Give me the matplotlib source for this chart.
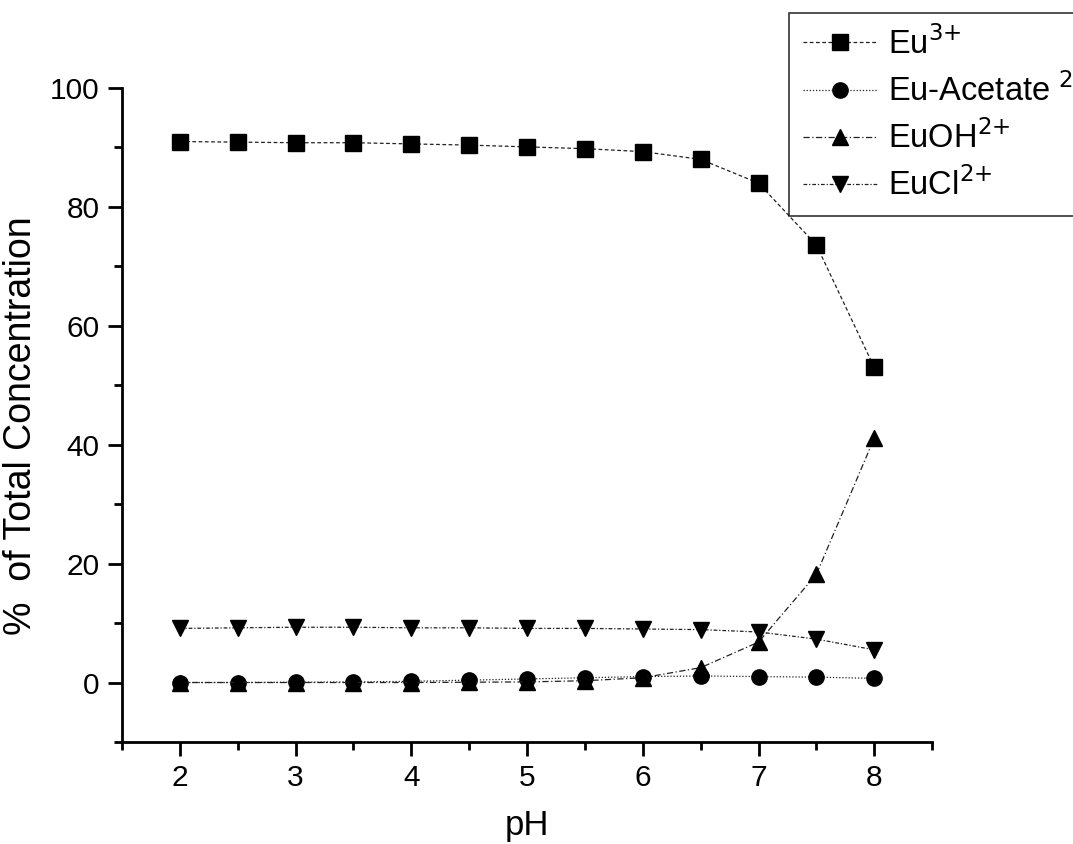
import matplotlib
matplotlib.use("Agg")
import matplotlib.pyplot as plt
from matplotlib.ticker import MultipleLocator

plt.rcParams['font.family'] = ['Liberation Sans', 'DejaVu Sans']
plt.rcParams['mathtext.default'] = 'regular'

# Speciation of europium versus pH
ph = [2, 2.5, 3, 3.5, 4, 4.5, 5, 5.5, 6, 6.5, 7, 7.5, 8]
eu3 = [91.0, 90.9, 90.8, 90.8, 90.6, 90.4, 90.1, 89.8, 89.3, 88.0, 84.0, 73.6, 53.0]
eu_acetate = [0.0, 0.0, 0.05, 0.1, 0.2, 0.4, 0.6, 0.8, 1.0, 1.1, 1.0, 0.9, 0.7]
euoh = [0.0, 0.0, 0.0, 0.0, 0.0, 0.05, 0.1, 0.3, 0.8, 2.5, 6.8, 18.2, 41.1]
eucl = [9.1, 9.2, 9.3, 9.3, 9.2, 9.2, 9.1, 9.1, 9.0, 8.9, 8.5, 7.3, 5.5]

labels = [r'Eu$^{\text{3+}}$', r'Eu-Acetate $^{\text{2-}}$',
          r'EuOH$^{\text{2+}}$', r'EuCl$^{\text{2+}}$']
series = [eu3, eu_acetate, euoh, eucl]
markers = ['s', 'o', '^', 'v']
styles = [(0, (3, 2)), (0, (1, 1.5)), (0, (5, 2, 1, 2)), (0, (3, 1.5, 1, 1.5))]

fig = plt.figure(figsize=(10.73, 8.44), dpi=100)
ax = fig.add_axes([0.1137, 0.1209, 0.755, 0.7748])

for y, lab, m, ls in zip(series, labels, markers, styles):
    ax.plot(ph, y, linestyle=ls, color='#222222', linewidth=0.9,
            marker=m, markersize=11, markerfacecolor='black',
            markeredgecolor='black', label=lab)

ax.set_xlim(1.5, 8.5)
ax.set_ylim(-10, 100)
ax.xaxis.set_minor_locator(MultipleLocator(0.5))
ax.yaxis.set_minor_locator(MultipleLocator(10))
ax.set_xticks([2, 3, 4, 5, 6, 7, 8])
ax.set_yticks([0, 20, 40, 60, 80, 100])

for side in ['top', 'right']:
    ax.spines[side].set_visible(False)
for side in ['left', 'bottom']:
    ax.spines[side].set_linewidth(2)

ax.tick_params(which='major', direction='out', length=10, width=2,
               labelsize=21.5, pad=6)
ax.tick_params(which='minor', direction='out', length=6, width=2)

ax.set_xlabel('pH', fontsize=25, labelpad=12)
ax.set_ylabel('%  of Total Concentration', fontsize=27)
ax.yaxis.set_label_coords(-0.102, 0.483)

leg = fig.legend(loc='upper left', bbox_to_anchor=(789 / 1073, 1 - 13 / 844),
                 fontsize=23.5, frameon=True, fancybox=False, edgecolor='black',
                 handlelength=2.3, handletextpad=0.3, labelspacing=0.4,
                 borderpad=0.42, borderaxespad=0)
leg.get_frame().set_linewidth(1.2)

fig.savefig('out.png', dpi=100)
